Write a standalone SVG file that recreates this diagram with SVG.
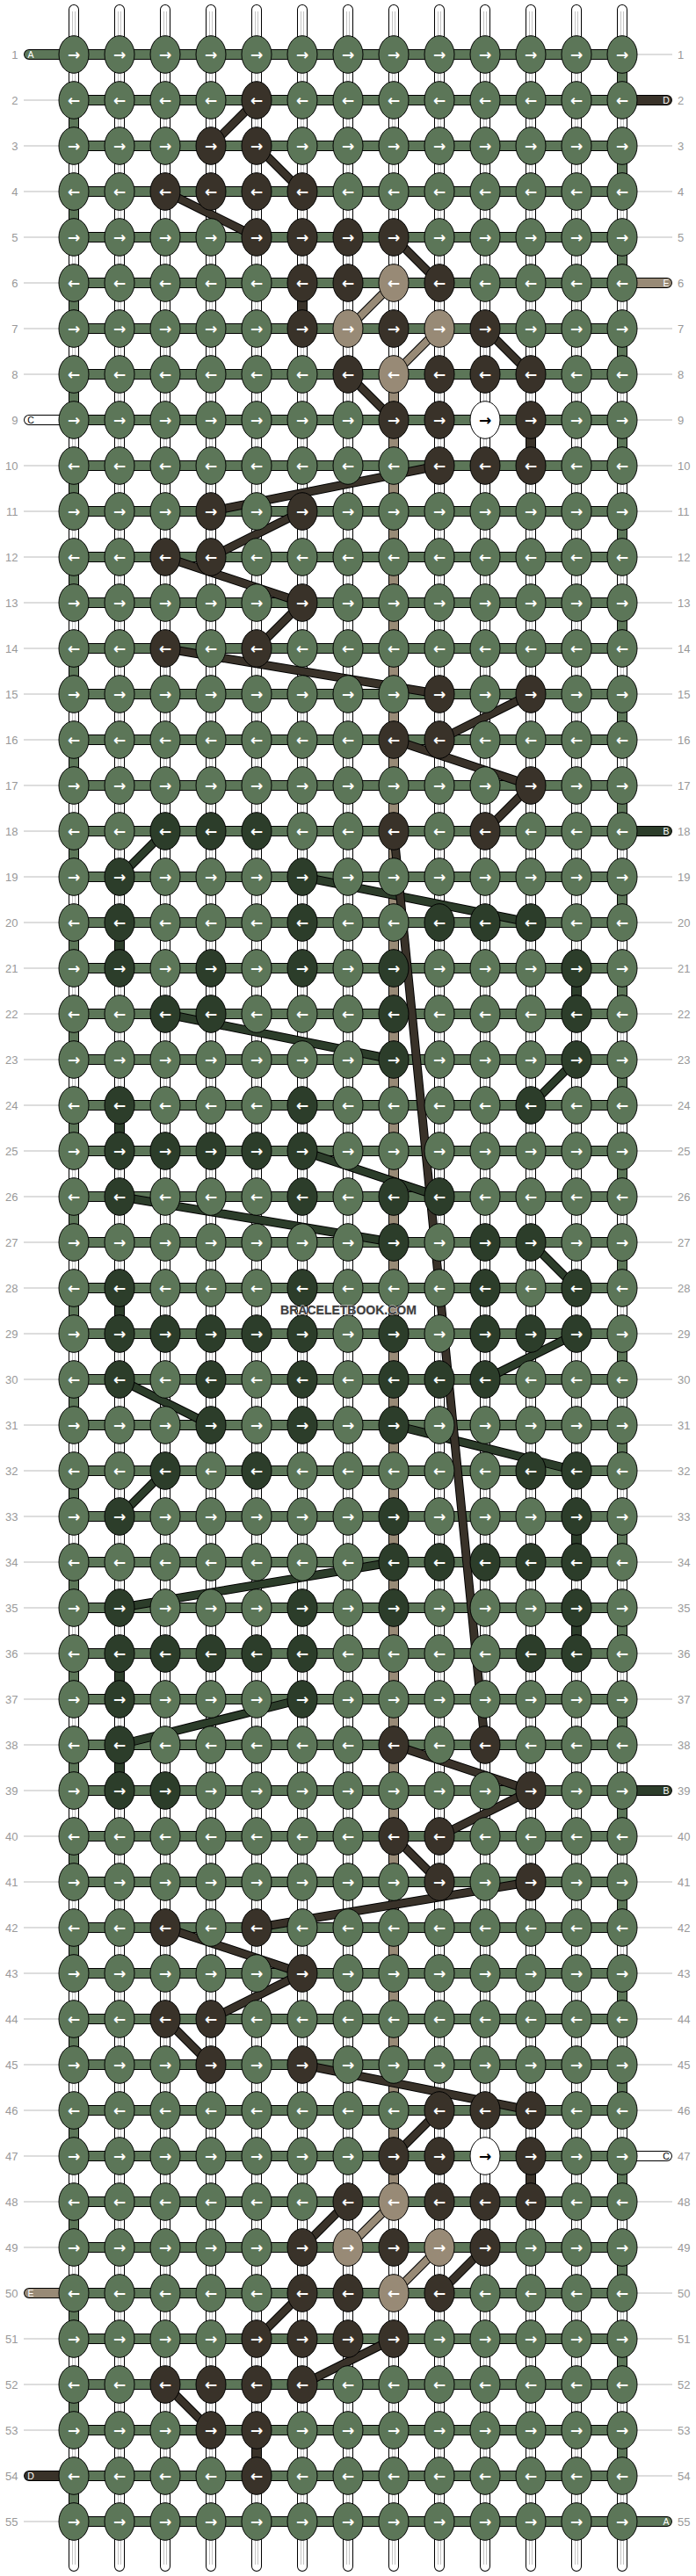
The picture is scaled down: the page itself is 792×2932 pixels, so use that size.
<svg xmlns="http://www.w3.org/2000/svg" width="792" height="2932" viewBox="0 0 792 2932">
<defs>
<style>
.t{font-family:"Liberation Sans",Arial,sans-serif;font-size:13px;fill:#999}
.tl{text-anchor:end}
.a{font-family:"DejaVu Sans",sans-serif;font-weight:bold;font-size:17px;fill:#fff;text-anchor:middle}
.lt{font-family:"Liberation Sans",Arial,sans-serif;font-size:10.5px;fill:#fff;text-anchor:middle}
.g{fill:#5c7658}.b{fill:#393229}.k{fill:#2c3d2a}.n{fill:#988a76}.w{fill:#fff}
.gl{stroke:#bbb;stroke-width:1;fill:none}
</style>
<ellipse id="k" rx="17" ry="21.3" stroke="#000" stroke-width="1"/>
<path id="vs" d="M84 11V2921M136 11V2921M188 11V2921M240 11V2921M292 11V2921M344 11V2921M396 11V2921M448 11V2921M500 11V2921M552 11V2921M604 11V2921M656 11V2921M708 11V2921" fill="none"/>
<path id="vi" d="M84 13V2919M136 13V2919M188 13V2919M240 13V2919M292 13V2919M344 13V2919M396 13V2919M448 13V2919M500 13V2919M552 13V2919M604 13V2919M656 13V2919M708 13V2919" fill="none"/>
<path id="hb" fill="none" d="M84 62H708M84 114H708M84 166H708M84 218H708M84 270H708M84 322H708M84 374H708M84 426H708M84 478H708M84 530H708M84 582H708M84 634H708M84 686H708M84 738H708M84 790H708M84 842H708M84 894H708M84 946H708M84 998H708M84 1050H708M84 1102H708M84 1154H708M84 1206H708M84 1258H708M84 1310H708M84 1362H708M84 1414H708M84 1466H708M84 1518H708M84 1570H708M84 1622H708M84 1674H708M84 1726H708M84 1778H708M84 1830H708M84 1882H708M84 1934H708M84 1986H708M84 2038H708M84 2090H708M84 2142H708M84 2194H708M84 2246H708M84 2298H708M84 2350H708M84 2402H708M84 2454H708M84 2506H708M84 2558H708M84 2610H708M84 2662H708M84 2714H708M84 2766H708M84 2818H708M84 2870H708"/>
<path id="eg" fill="none" stroke-dasharray="52 52" d="M84 114V2870M708 62V2818"/>
<path id="vt" fill="none" d="M448 426V2506"/>
<path id="vk" fill="none" d="M136 1050V1102M136 1258V1310M136 1466V1518M136 1882V1934M136 1986V2038M656 1102V1154M656 1726V1778M656 1830V1882"/>
<path id="vb" fill="none" d="M344 322V374M604 478V530M604 2454V2506M292 2766V2818"/>
<path id="capg" fill="none" stroke-linecap="round" d="M33 62H84M708 2870H759"/>
<path id="capb" fill="none" stroke-linecap="round" d="M33 2818H84M708 114H759"/>
<path id="capn" fill="none" stroke-linecap="round" d="M33 2610H84M708 322H759"/>
<path id="capk" fill="none" stroke-linecap="round" d="M708 946H759M708 2038H759"/>
<path id="capw" fill="none" stroke-linecap="round" d="M33 478H84M708 2454H759"/>
<path id="lb" fill="none" d="M292 114L240 166M292 166L344 218M188 218L292 270M448 270L500 322M552 374L604 426M396 426L448 478M500 530L240 582M344 582L240 634M188 634L344 686M344 686L292 738M188 738L500 790M604 790L500 842M448 842L604 894M604 894L552 946M448 946L552 1986M448 1986L604 2038M604 2038L500 2090M448 2090L500 2142M604 2142L292 2194M188 2194L344 2246M344 2246L240 2298M188 2298L240 2350M344 2350L604 2402M500 2402L448 2454M396 2506L344 2558M552 2558L500 2610M344 2610L292 2662M448 2662L344 2714M188 2714L240 2766"/>
<path id="ln" fill="none" d="M448 322L396 374M500 374L448 426M448 2506L396 2558M500 2558L448 2610"/>
<path id="lk" fill="none" d="M188 946L136 998M344 998L604 1050M188 1154L448 1206M656 1206L604 1258M344 1310L500 1362M136 1362L448 1414M604 1414L656 1466M656 1518L552 1570M136 1570L240 1622M448 1622L656 1674M188 1674L136 1726M448 1778L136 1830M344 1934L136 1986"/>
</defs>
<rect width="792" height="2932" fill="#fff"/>
<g id="row-guides">
<path class="gl" d="M27 114h40M27 166h40M27 218h40M27 270h40M27 322h40M27 374h40M27 426h40M27 530h40M27 582h40M27 634h40M27 686h40M27 738h40M27 790h40M27 842h40M27 894h40M27 946h40M27 998h40M27 1050h40M27 1102h40M27 1154h40M27 1206h40M27 1258h40M27 1310h40M27 1362h40M27 1414h40M27 1466h40M27 1518h40M27 1570h40M27 1622h40M27 1674h40M27 1726h40M27 1778h40M27 1830h40M27 1882h40M27 1934h40M27 1986h40M27 2038h40M27 2090h40M27 2142h40M27 2194h40M27 2246h40M27 2298h40M27 2350h40M27 2402h40M27 2454h40M27 2506h40M27 2558h40M27 2662h40M27 2714h40M27 2766h40M27 2870h40"/>
<path class="gl" d="M725 62h40M725 166h40M725 218h40M725 270h40M725 374h40M725 426h40M725 478h40M725 530h40M725 582h40M725 634h40M725 686h40M725 738h40M725 790h40M725 842h40M725 894h40M725 998h40M725 1050h40M725 1102h40M725 1154h40M725 1206h40M725 1258h40M725 1310h40M725 1362h40M725 1414h40M725 1466h40M725 1518h40M725 1570h40M725 1622h40M725 1674h40M725 1726h40M725 1778h40M725 1830h40M725 1882h40M725 1934h40M725 1986h40M725 2090h40M725 2142h40M725 2194h40M725 2246h40M725 2298h40M725 2350h40M725 2402h40M725 2506h40M725 2558h40M725 2610h40M725 2662h40M725 2714h40M725 2766h40M725 2818h40"/>
</g>
<g id="row-numbers-left" class="t tl">
<text x="20.5" y="66.5">1</text><text x="20.5" y="118.5">2</text><text x="20.5" y="170.5">3</text><text x="20.5" y="222.5">4</text><text x="20.5" y="274.5">5</text><text x="20.5" y="326.5">6</text><text x="20.5" y="378.5">7</text><text x="20.5" y="430.5">8</text><text x="20.5" y="482.5">9</text><text x="20.5" y="534.5">10</text><text x="20.5" y="586.5">11</text><text x="20.5" y="638.5">12</text><text x="20.5" y="690.5">13</text><text x="20.5" y="742.5">14</text><text x="20.5" y="794.5">15</text><text x="20.5" y="846.5">16</text><text x="20.5" y="898.5">17</text><text x="20.5" y="950.5">18</text><text x="20.5" y="1002.5">19</text><text x="20.5" y="1054.5">20</text><text x="20.5" y="1106.5">21</text><text x="20.5" y="1158.5">22</text><text x="20.5" y="1210.5">23</text><text x="20.5" y="1262.5">24</text><text x="20.5" y="1314.5">25</text><text x="20.5" y="1366.5">26</text><text x="20.5" y="1418.5">27</text><text x="20.5" y="1470.5">28</text><text x="20.5" y="1522.5">29</text><text x="20.5" y="1574.5">30</text><text x="20.5" y="1626.5">31</text><text x="20.5" y="1678.5">32</text><text x="20.5" y="1730.5">33</text><text x="20.5" y="1782.5">34</text><text x="20.5" y="1834.5">35</text><text x="20.5" y="1886.5">36</text><text x="20.5" y="1938.5">37</text><text x="20.5" y="1990.5">38</text><text x="20.5" y="2042.5">39</text><text x="20.5" y="2094.5">40</text><text x="20.5" y="2146.5">41</text><text x="20.5" y="2198.5">42</text><text x="20.5" y="2250.5">43</text><text x="20.5" y="2302.5">44</text><text x="20.5" y="2354.5">45</text><text x="20.5" y="2406.5">46</text><text x="20.5" y="2458.5">47</text><text x="20.5" y="2510.5">48</text><text x="20.5" y="2562.5">49</text><text x="20.5" y="2614.5">50</text><text x="20.5" y="2666.5">51</text><text x="20.5" y="2718.5">52</text><text x="20.5" y="2770.5">53</text><text x="20.5" y="2822.5">54</text><text x="20.5" y="2874.5">55</text>
</g>
<g id="row-numbers-right" class="t">
<text x="771" y="66.5">1</text><text x="771" y="118.5">2</text><text x="771" y="170.5">3</text><text x="771" y="222.5">4</text><text x="771" y="274.5">5</text><text x="771" y="326.5">6</text><text x="771" y="378.5">7</text><text x="771" y="430.5">8</text><text x="771" y="482.5">9</text><text x="771" y="534.5">10</text><text x="771" y="586.5">11</text><text x="771" y="638.5">12</text><text x="771" y="690.5">13</text><text x="771" y="742.5">14</text><text x="771" y="794.5">15</text><text x="771" y="846.5">16</text><text x="771" y="898.5">17</text><text x="771" y="950.5">18</text><text x="771" y="1002.5">19</text><text x="771" y="1054.5">20</text><text x="771" y="1106.5">21</text><text x="771" y="1158.5">22</text><text x="771" y="1210.5">23</text><text x="771" y="1262.5">24</text><text x="771" y="1314.5">25</text><text x="771" y="1366.5">26</text><text x="771" y="1418.5">27</text><text x="771" y="1470.5">28</text><text x="771" y="1522.5">29</text><text x="771" y="1574.5">30</text><text x="771" y="1626.5">31</text><text x="771" y="1678.5">32</text><text x="771" y="1730.5">33</text><text x="771" y="1782.5">34</text><text x="771" y="1834.5">35</text><text x="771" y="1886.5">36</text><text x="771" y="1938.5">37</text><text x="771" y="1990.5">38</text><text x="771" y="2042.5">39</text><text x="771" y="2094.5">40</text><text x="771" y="2146.5">41</text><text x="771" y="2198.5">42</text><text x="771" y="2250.5">43</text><text x="771" y="2302.5">44</text><text x="771" y="2354.5">45</text><text x="771" y="2406.5">46</text><text x="771" y="2458.5">47</text><text x="771" y="2510.5">48</text><text x="771" y="2562.5">49</text><text x="771" y="2614.5">50</text><text x="771" y="2666.5">51</text><text x="771" y="2718.5">52</text><text x="771" y="2770.5">53</text><text x="771" y="2822.5">54</text><text x="771" y="2874.5">55</text>
</g>
<g id="strings">
<use href="#vs" stroke="#000" stroke-width="12" stroke-linecap="round"/>
<use href="#vs" stroke="#fff" stroke-width="10" stroke-linecap="round"/>
<use href="#vi" stroke="#c4c4c4" stroke-width="4"/>
<use href="#vi" stroke="#fff" stroke-width="2"/>
<use href="#eg" stroke="#000" stroke-width="12"/>
<use href="#eg" stroke="#5c7658" stroke-width="10"/>
<use href="#vt" stroke="#000" stroke-width="12"/>
<use href="#vt" stroke="#988a76" stroke-width="10"/>
<use href="#vk" stroke="#000" stroke-width="12"/>
<use href="#vk" stroke="#2c3d2a" stroke-width="10"/>
<use href="#vb" stroke="#000" stroke-width="12"/>
<use href="#vb" stroke="#393229" stroke-width="10"/>
<use href="#hb" stroke="#000" stroke-width="12"/>
<use href="#hb" stroke="#5c7658" stroke-width="10"/>
</g>
<g id="string-labels">
<use href="#capg" stroke="#000" stroke-width="12"/><use href="#capg" stroke="#5c7658" stroke-width="10"/>
<use href="#capb" stroke="#000" stroke-width="12"/><use href="#capb" stroke="#393229" stroke-width="10"/>
<use href="#capn" stroke="#000" stroke-width="12"/><use href="#capn" stroke="#988a76" stroke-width="10"/>
<use href="#capk" stroke="#000" stroke-width="12"/><use href="#capk" stroke="#2c3d2a" stroke-width="10"/>
<use href="#capw" stroke="#000" stroke-width="12"/><use href="#capw" stroke="#fff" stroke-width="10"/>
<text class="lt" x="35" y="66">A</text>
<text class="lt" x="35" y="482" style="fill:#000">C</text>
<text class="lt" x="35" y="2614">E</text>
<text class="lt" x="35" y="2822">D</text>
<text class="lt" x="758" y="118">D</text>
<text class="lt" x="758" y="326">E</text>
<text class="lt" x="758" y="950">B</text>
<text class="lt" x="758" y="2042">B</text>
<text class="lt" x="758" y="2458" style="fill:#000">C</text>
<text class="lt" x="758" y="2874">A</text>
</g>
<g id="connectors">
<use href="#lk" stroke="#000" stroke-width="10"/><use href="#lk" stroke="#2c3d2a" stroke-width="8"/>
<use href="#lb" stroke="#000" stroke-width="10"/><use href="#lb" stroke="#393229" stroke-width="8"/>
<use href="#ln" stroke="#000" stroke-width="10"/><use href="#ln" stroke="#988a76" stroke-width="8"/>
</g>
<g id="knots">
<g id="row-1" class="g" transform="translate(0,62)"><use href="#k" x="84"/><use href="#k" x="136"/><use href="#k" x="188"/><use href="#k" x="240"/><use href="#k" x="292"/><use href="#k" x="344"/><use href="#k" x="396"/><use href="#k" x="448"/><use href="#k" x="500"/><use href="#k" x="552"/><use href="#k" x="604"/><use href="#k" x="656"/><use href="#k" x="708"/><text class="a" x="84 136 188 240 292 344 396 448 500 552 604 656 708" y="6">→→→→→→→→→→→→→</text></g>
<g id="row-2" class="g" transform="translate(0,114)"><use href="#k" x="84"/><use href="#k" x="136"/><use href="#k" x="188"/><use href="#k" x="240"/><use href="#k" x="292" class="b"/><use href="#k" x="344"/><use href="#k" x="396"/><use href="#k" x="448"/><use href="#k" x="500"/><use href="#k" x="552"/><use href="#k" x="604"/><use href="#k" x="656"/><use href="#k" x="708"/><text class="a" x="84 136 188 240 292 344 396 448 500 552 604 656 708" y="6">←←←←←←←←←←←←←</text></g>
<g id="row-3" class="g" transform="translate(0,166)"><use href="#k" x="84"/><use href="#k" x="136"/><use href="#k" x="188"/><use href="#k" x="240" class="b"/><use href="#k" x="292" class="b"/><use href="#k" x="344"/><use href="#k" x="396"/><use href="#k" x="448"/><use href="#k" x="500"/><use href="#k" x="552"/><use href="#k" x="604"/><use href="#k" x="656"/><use href="#k" x="708"/><text class="a" x="84 136 188 240 292 344 396 448 500 552 604 656 708" y="6">→→→→→→→→→→→→→</text></g>
<g id="row-4" class="g" transform="translate(0,218)"><use href="#k" x="84"/><use href="#k" x="136"/><use href="#k" x="188" class="b"/><use href="#k" x="240" class="b"/><use href="#k" x="292" class="b"/><use href="#k" x="344" class="b"/><use href="#k" x="396"/><use href="#k" x="448"/><use href="#k" x="500"/><use href="#k" x="552"/><use href="#k" x="604"/><use href="#k" x="656"/><use href="#k" x="708"/><text class="a" x="84 136 188 240 292 344 396 448 500 552 604 656 708" y="6">←←←←←←←←←←←←←</text></g>
<g id="row-5" class="g" transform="translate(0,270)"><use href="#k" x="84"/><use href="#k" x="136"/><use href="#k" x="188"/><use href="#k" x="240"/><use href="#k" x="292" class="b"/><use href="#k" x="344" class="b"/><use href="#k" x="396" class="b"/><use href="#k" x="448" class="b"/><use href="#k" x="500"/><use href="#k" x="552"/><use href="#k" x="604"/><use href="#k" x="656"/><use href="#k" x="708"/><text class="a" x="84 136 188 240 292 344 396 448 500 552 604 656 708" y="6">→→→→→→→→→→→→→</text></g>
<g id="row-6" class="g" transform="translate(0,322)"><use href="#k" x="84"/><use href="#k" x="136"/><use href="#k" x="188"/><use href="#k" x="240"/><use href="#k" x="292"/><use href="#k" x="344" class="b"/><use href="#k" x="396" class="b"/><use href="#k" x="448" class="n"/><use href="#k" x="500" class="b"/><use href="#k" x="552"/><use href="#k" x="604"/><use href="#k" x="656"/><use href="#k" x="708"/><text class="a" x="84 136 188 240 292 344 396 448 500 552 604 656 708" y="6">←←←←←←←←←←←←←</text></g>
<g id="row-7" class="g" transform="translate(0,374)"><use href="#k" x="84"/><use href="#k" x="136"/><use href="#k" x="188"/><use href="#k" x="240"/><use href="#k" x="292"/><use href="#k" x="344" class="b"/><use href="#k" x="396" class="n"/><use href="#k" x="448" class="b"/><use href="#k" x="500" class="n"/><use href="#k" x="552" class="b"/><use href="#k" x="604"/><use href="#k" x="656"/><use href="#k" x="708"/><text class="a" x="84 136 188 240 292 344 396 448 500 552 604 656 708" y="6">→→→→→→→→→→→→→</text></g>
<g id="row-8" class="g" transform="translate(0,426)"><use href="#k" x="84"/><use href="#k" x="136"/><use href="#k" x="188"/><use href="#k" x="240"/><use href="#k" x="292"/><use href="#k" x="344"/><use href="#k" x="396" class="b"/><use href="#k" x="448" class="n"/><use href="#k" x="500" class="b"/><use href="#k" x="552" class="b"/><use href="#k" x="604" class="b"/><use href="#k" x="656"/><use href="#k" x="708"/><text class="a" x="84 136 188 240 292 344 396 448 500 552 604 656 708" y="6">←←←←←←←←←←←←←</text></g>
<g id="row-9" class="g" transform="translate(0,478)"><use href="#k" x="84"/><use href="#k" x="136"/><use href="#k" x="188"/><use href="#k" x="240"/><use href="#k" x="292"/><use href="#k" x="344"/><use href="#k" x="396"/><use href="#k" x="448" class="b"/><use href="#k" x="500" class="b"/><use href="#k" x="552" class="w"/><use href="#k" x="604" class="b"/><use href="#k" x="656"/><use href="#k" x="708"/><text class="a" x="84 136 188 240 292 344 396 448 500 552 604 656 708" y="6">→→→→→→→→→<tspan style="fill:#000">→</tspan>→→→</text></g>
<g id="row-10" class="g" transform="translate(0,530)"><use href="#k" x="84"/><use href="#k" x="136"/><use href="#k" x="188"/><use href="#k" x="240"/><use href="#k" x="292"/><use href="#k" x="344"/><use href="#k" x="396"/><use href="#k" x="448"/><use href="#k" x="500" class="b"/><use href="#k" x="552" class="b"/><use href="#k" x="604" class="b"/><use href="#k" x="656"/><use href="#k" x="708"/><text class="a" x="84 136 188 240 292 344 396 448 500 552 604 656 708" y="6">←←←←←←←←←←←←←</text></g>
<g id="row-11" class="g" transform="translate(0,582)"><use href="#k" x="84"/><use href="#k" x="136"/><use href="#k" x="188"/><use href="#k" x="240" class="b"/><use href="#k" x="292"/><use href="#k" x="344" class="b"/><use href="#k" x="396"/><use href="#k" x="448"/><use href="#k" x="500"/><use href="#k" x="552"/><use href="#k" x="604"/><use href="#k" x="656"/><use href="#k" x="708"/><text class="a" x="84 136 188 240 292 344 396 448 500 552 604 656 708" y="6">→→→→→→→→→→→→→</text></g>
<g id="row-12" class="g" transform="translate(0,634)"><use href="#k" x="84"/><use href="#k" x="136"/><use href="#k" x="188" class="b"/><use href="#k" x="240" class="b"/><use href="#k" x="292"/><use href="#k" x="344"/><use href="#k" x="396"/><use href="#k" x="448"/><use href="#k" x="500"/><use href="#k" x="552"/><use href="#k" x="604"/><use href="#k" x="656"/><use href="#k" x="708"/><text class="a" x="84 136 188 240 292 344 396 448 500 552 604 656 708" y="6">←←←←←←←←←←←←←</text></g>
<g id="row-13" class="g" transform="translate(0,686)"><use href="#k" x="84"/><use href="#k" x="136"/><use href="#k" x="188"/><use href="#k" x="240"/><use href="#k" x="292"/><use href="#k" x="344" class="b"/><use href="#k" x="396"/><use href="#k" x="448"/><use href="#k" x="500"/><use href="#k" x="552"/><use href="#k" x="604"/><use href="#k" x="656"/><use href="#k" x="708"/><text class="a" x="84 136 188 240 292 344 396 448 500 552 604 656 708" y="6">→→→→→→→→→→→→→</text></g>
<g id="row-14" class="g" transform="translate(0,738)"><use href="#k" x="84"/><use href="#k" x="136"/><use href="#k" x="188" class="b"/><use href="#k" x="240"/><use href="#k" x="292" class="b"/><use href="#k" x="344"/><use href="#k" x="396"/><use href="#k" x="448"/><use href="#k" x="500"/><use href="#k" x="552"/><use href="#k" x="604"/><use href="#k" x="656"/><use href="#k" x="708"/><text class="a" x="84 136 188 240 292 344 396 448 500 552 604 656 708" y="6">←←←←←←←←←←←←←</text></g>
<g id="row-15" class="g" transform="translate(0,790)"><use href="#k" x="84"/><use href="#k" x="136"/><use href="#k" x="188"/><use href="#k" x="240"/><use href="#k" x="292"/><use href="#k" x="344"/><use href="#k" x="396"/><use href="#k" x="448"/><use href="#k" x="500" class="b"/><use href="#k" x="552"/><use href="#k" x="604" class="b"/><use href="#k" x="656"/><use href="#k" x="708"/><text class="a" x="84 136 188 240 292 344 396 448 500 552 604 656 708" y="6">→→→→→→→→→→→→→</text></g>
<g id="row-16" class="g" transform="translate(0,842)"><use href="#k" x="84"/><use href="#k" x="136"/><use href="#k" x="188"/><use href="#k" x="240"/><use href="#k" x="292"/><use href="#k" x="344"/><use href="#k" x="396"/><use href="#k" x="448" class="b"/><use href="#k" x="500" class="b"/><use href="#k" x="552"/><use href="#k" x="604"/><use href="#k" x="656"/><use href="#k" x="708"/><text class="a" x="84 136 188 240 292 344 396 448 500 552 604 656 708" y="6">←←←←←←←←←←←←←</text></g>
<g id="row-17" class="g" transform="translate(0,894)"><use href="#k" x="84"/><use href="#k" x="136"/><use href="#k" x="188"/><use href="#k" x="240"/><use href="#k" x="292"/><use href="#k" x="344"/><use href="#k" x="396"/><use href="#k" x="448"/><use href="#k" x="500"/><use href="#k" x="552"/><use href="#k" x="604" class="b"/><use href="#k" x="656"/><use href="#k" x="708"/><text class="a" x="84 136 188 240 292 344 396 448 500 552 604 656 708" y="6">→→→→→→→→→→→→→</text></g>
<g id="row-18" class="g" transform="translate(0,946)"><use href="#k" x="84"/><use href="#k" x="136"/><use href="#k" x="188" class="k"/><use href="#k" x="240" class="k"/><use href="#k" x="292" class="k"/><use href="#k" x="344"/><use href="#k" x="396"/><use href="#k" x="448" class="b"/><use href="#k" x="500"/><use href="#k" x="552" class="b"/><use href="#k" x="604"/><use href="#k" x="656"/><use href="#k" x="708"/><text class="a" x="84 136 188 240 292 344 396 448 500 552 604 656 708" y="6">←←←←←←←←←←←←←</text></g>
<g id="row-19" class="g" transform="translate(0,998)"><use href="#k" x="84"/><use href="#k" x="136" class="k"/><use href="#k" x="188"/><use href="#k" x="240"/><use href="#k" x="292"/><use href="#k" x="344" class="k"/><use href="#k" x="396"/><use href="#k" x="448"/><use href="#k" x="500"/><use href="#k" x="552"/><use href="#k" x="604"/><use href="#k" x="656"/><use href="#k" x="708"/><text class="a" x="84 136 188 240 292 344 396 448 500 552 604 656 708" y="6">→→→→→→→→→→→→→</text></g>
<g id="row-20" class="g" transform="translate(0,1050)"><use href="#k" x="84"/><use href="#k" x="136" class="k"/><use href="#k" x="188"/><use href="#k" x="240"/><use href="#k" x="292"/><use href="#k" x="344" class="k"/><use href="#k" x="396"/><use href="#k" x="448"/><use href="#k" x="500" class="k"/><use href="#k" x="552" class="k"/><use href="#k" x="604" class="k"/><use href="#k" x="656"/><use href="#k" x="708"/><text class="a" x="84 136 188 240 292 344 396 448 500 552 604 656 708" y="6">←←←←←←←←←←←←←</text></g>
<g id="row-21" class="g" transform="translate(0,1102)"><use href="#k" x="84"/><use href="#k" x="136" class="k"/><use href="#k" x="188"/><use href="#k" x="240" class="k"/><use href="#k" x="292"/><use href="#k" x="344" class="k"/><use href="#k" x="396"/><use href="#k" x="448" class="k"/><use href="#k" x="500"/><use href="#k" x="552"/><use href="#k" x="604"/><use href="#k" x="656" class="k"/><use href="#k" x="708"/><text class="a" x="84 136 188 240 292 344 396 448 500 552 604 656 708" y="6">→→→→→→→→→→→→→</text></g>
<g id="row-22" class="g" transform="translate(0,1154)"><use href="#k" x="84"/><use href="#k" x="136"/><use href="#k" x="188" class="k"/><use href="#k" x="240" class="k"/><use href="#k" x="292"/><use href="#k" x="344"/><use href="#k" x="396"/><use href="#k" x="448" class="k"/><use href="#k" x="500"/><use href="#k" x="552"/><use href="#k" x="604"/><use href="#k" x="656" class="k"/><use href="#k" x="708"/><text class="a" x="84 136 188 240 292 344 396 448 500 552 604 656 708" y="6">←←←←←←←←←←←←←</text></g>
<g id="row-23" class="g" transform="translate(0,1206)"><use href="#k" x="84"/><use href="#k" x="136"/><use href="#k" x="188"/><use href="#k" x="240"/><use href="#k" x="292"/><use href="#k" x="344"/><use href="#k" x="396"/><use href="#k" x="448" class="k"/><use href="#k" x="500"/><use href="#k" x="552"/><use href="#k" x="604"/><use href="#k" x="656" class="k"/><use href="#k" x="708"/><text class="a" x="84 136 188 240 292 344 396 448 500 552 604 656 708" y="6">→→→→→→→→→→→→→</text></g>
<g id="row-24" class="g" transform="translate(0,1258)"><use href="#k" x="84"/><use href="#k" x="136" class="k"/><use href="#k" x="188"/><use href="#k" x="240"/><use href="#k" x="292"/><use href="#k" x="344" class="k"/><use href="#k" x="396"/><use href="#k" x="448"/><use href="#k" x="500"/><use href="#k" x="552"/><use href="#k" x="604" class="k"/><use href="#k" x="656"/><use href="#k" x="708"/><text class="a" x="84 136 188 240 292 344 396 448 500 552 604 656 708" y="6">←←←←←←←←←←←←←</text></g>
<g id="row-25" class="g" transform="translate(0,1310)"><use href="#k" x="84"/><use href="#k" x="136" class="k"/><use href="#k" x="188" class="k"/><use href="#k" x="240" class="k"/><use href="#k" x="292" class="k"/><use href="#k" x="344" class="k"/><use href="#k" x="396"/><use href="#k" x="448"/><use href="#k" x="500"/><use href="#k" x="552"/><use href="#k" x="604"/><use href="#k" x="656"/><use href="#k" x="708"/><text class="a" x="84 136 188 240 292 344 396 448 500 552 604 656 708" y="6">→→→→→→→→→→→→→</text></g>
<g id="row-26" class="g" transform="translate(0,1362)"><use href="#k" x="84"/><use href="#k" x="136" class="k"/><use href="#k" x="188"/><use href="#k" x="240"/><use href="#k" x="292"/><use href="#k" x="344" class="k"/><use href="#k" x="396"/><use href="#k" x="448" class="k"/><use href="#k" x="500" class="k"/><use href="#k" x="552"/><use href="#k" x="604"/><use href="#k" x="656"/><use href="#k" x="708"/><text class="a" x="84 136 188 240 292 344 396 448 500 552 604 656 708" y="6">←←←←←←←←←←←←←</text></g>
<g id="row-27" class="g" transform="translate(0,1414)"><use href="#k" x="84"/><use href="#k" x="136"/><use href="#k" x="188"/><use href="#k" x="240"/><use href="#k" x="292"/><use href="#k" x="344"/><use href="#k" x="396"/><use href="#k" x="448" class="k"/><use href="#k" x="500"/><use href="#k" x="552" class="k"/><use href="#k" x="604" class="k"/><use href="#k" x="656"/><use href="#k" x="708"/><text class="a" x="84 136 188 240 292 344 396 448 500 552 604 656 708" y="6">→→→→→→→→→→→→→</text></g>
<g id="row-28" class="g" transform="translate(0,1466)"><use href="#k" x="84"/><use href="#k" x="136" class="k"/><use href="#k" x="188"/><use href="#k" x="240"/><use href="#k" x="292"/><use href="#k" x="344" class="k"/><use href="#k" x="396"/><use href="#k" x="448"/><use href="#k" x="500"/><use href="#k" x="552" class="k"/><use href="#k" x="604"/><use href="#k" x="656" class="k"/><use href="#k" x="708"/><text class="a" x="84 136 188 240 292 344 396 448 500 552 604 656 708" y="6">←←←←←←←←←←←←←</text></g>
<g id="row-29" class="g" transform="translate(0,1518)"><use href="#k" x="84"/><use href="#k" x="136" class="k"/><use href="#k" x="188" class="k"/><use href="#k" x="240" class="k"/><use href="#k" x="292" class="k"/><use href="#k" x="344" class="k"/><use href="#k" x="396"/><use href="#k" x="448" class="k"/><use href="#k" x="500"/><use href="#k" x="552" class="k"/><use href="#k" x="604" class="k"/><use href="#k" x="656" class="k"/><use href="#k" x="708"/><text class="a" x="84 136 188 240 292 344 396 448 500 552 604 656 708" y="6">→→→→→→→→→→→→→</text></g>
<g id="row-30" class="g" transform="translate(0,1570)"><use href="#k" x="84"/><use href="#k" x="136" class="k"/><use href="#k" x="188"/><use href="#k" x="240" class="k"/><use href="#k" x="292"/><use href="#k" x="344" class="k"/><use href="#k" x="396"/><use href="#k" x="448" class="k"/><use href="#k" x="500" class="k"/><use href="#k" x="552" class="k"/><use href="#k" x="604"/><use href="#k" x="656"/><use href="#k" x="708"/><text class="a" x="84 136 188 240 292 344 396 448 500 552 604 656 708" y="6">←←←←←←←←←←←←←</text></g>
<g id="row-31" class="g" transform="translate(0,1622)"><use href="#k" x="84"/><use href="#k" x="136"/><use href="#k" x="188"/><use href="#k" x="240" class="k"/><use href="#k" x="292"/><use href="#k" x="344" class="k"/><use href="#k" x="396"/><use href="#k" x="448" class="k"/><use href="#k" x="500"/><use href="#k" x="552"/><use href="#k" x="604"/><use href="#k" x="656"/><use href="#k" x="708"/><text class="a" x="84 136 188 240 292 344 396 448 500 552 604 656 708" y="6">→→→→→→→→→→→→→</text></g>
<g id="row-32" class="g" transform="translate(0,1674)"><use href="#k" x="84"/><use href="#k" x="136"/><use href="#k" x="188" class="k"/><use href="#k" x="240"/><use href="#k" x="292" class="k"/><use href="#k" x="344"/><use href="#k" x="396"/><use href="#k" x="448"/><use href="#k" x="500"/><use href="#k" x="552"/><use href="#k" x="604" class="k"/><use href="#k" x="656" class="k"/><use href="#k" x="708"/><text class="a" x="84 136 188 240 292 344 396 448 500 552 604 656 708" y="6">←←←←←←←←←←←←←</text></g>
<g id="row-33" class="g" transform="translate(0,1726)"><use href="#k" x="84"/><use href="#k" x="136" class="k"/><use href="#k" x="188"/><use href="#k" x="240"/><use href="#k" x="292"/><use href="#k" x="344"/><use href="#k" x="396"/><use href="#k" x="448" class="k"/><use href="#k" x="500"/><use href="#k" x="552"/><use href="#k" x="604"/><use href="#k" x="656" class="k"/><use href="#k" x="708"/><text class="a" x="84 136 188 240 292 344 396 448 500 552 604 656 708" y="6">→→→→→→→→→→→→→</text></g>
<g id="row-34" class="g" transform="translate(0,1778)"><use href="#k" x="84"/><use href="#k" x="136"/><use href="#k" x="188"/><use href="#k" x="240"/><use href="#k" x="292"/><use href="#k" x="344"/><use href="#k" x="396"/><use href="#k" x="448" class="k"/><use href="#k" x="500" class="k"/><use href="#k" x="552" class="k"/><use href="#k" x="604" class="k"/><use href="#k" x="656" class="k"/><use href="#k" x="708"/><text class="a" x="84 136 188 240 292 344 396 448 500 552 604 656 708" y="6">←←←←←←←←←←←←←</text></g>
<g id="row-35" class="g" transform="translate(0,1830)"><use href="#k" x="84"/><use href="#k" x="136" class="k"/><use href="#k" x="188"/><use href="#k" x="240"/><use href="#k" x="292"/><use href="#k" x="344" class="k"/><use href="#k" x="396"/><use href="#k" x="448" class="k"/><use href="#k" x="500"/><use href="#k" x="552"/><use href="#k" x="604"/><use href="#k" x="656" class="k"/><use href="#k" x="708"/><text class="a" x="84 136 188 240 292 344 396 448 500 552 604 656 708" y="6">→→→→→→→→→→→→→</text></g>
<g id="row-36" class="g" transform="translate(0,1882)"><use href="#k" x="84"/><use href="#k" x="136" class="k"/><use href="#k" x="188" class="k"/><use href="#k" x="240" class="k"/><use href="#k" x="292" class="k"/><use href="#k" x="344" class="k"/><use href="#k" x="396"/><use href="#k" x="448"/><use href="#k" x="500"/><use href="#k" x="552"/><use href="#k" x="604" class="k"/><use href="#k" x="656" class="k"/><use href="#k" x="708"/><text class="a" x="84 136 188 240 292 344 396 448 500 552 604 656 708" y="6">←←←←←←←←←←←←←</text></g>
<g id="row-37" class="g" transform="translate(0,1934)"><use href="#k" x="84"/><use href="#k" x="136" class="k"/><use href="#k" x="188"/><use href="#k" x="240"/><use href="#k" x="292"/><use href="#k" x="344" class="k"/><use href="#k" x="396"/><use href="#k" x="448"/><use href="#k" x="500"/><use href="#k" x="552"/><use href="#k" x="604"/><use href="#k" x="656"/><use href="#k" x="708"/><text class="a" x="84 136 188 240 292 344 396 448 500 552 604 656 708" y="6">→→→→→→→→→→→→→</text></g>
<g id="row-38" class="g" transform="translate(0,1986)"><use href="#k" x="84"/><use href="#k" x="136" class="k"/><use href="#k" x="188"/><use href="#k" x="240"/><use href="#k" x="292"/><use href="#k" x="344"/><use href="#k" x="396"/><use href="#k" x="448" class="b"/><use href="#k" x="500"/><use href="#k" x="552" class="b"/><use href="#k" x="604"/><use href="#k" x="656"/><use href="#k" x="708"/><text class="a" x="84 136 188 240 292 344 396 448 500 552 604 656 708" y="6">←←←←←←←←←←←←←</text></g>
<g id="row-39" class="g" transform="translate(0,2038)"><use href="#k" x="84"/><use href="#k" x="136" class="k"/><use href="#k" x="188" class="k"/><use href="#k" x="240"/><use href="#k" x="292"/><use href="#k" x="344"/><use href="#k" x="396"/><use href="#k" x="448"/><use href="#k" x="500"/><use href="#k" x="552"/><use href="#k" x="604" class="b"/><use href="#k" x="656"/><use href="#k" x="708"/><text class="a" x="84 136 188 240 292 344 396 448 500 552 604 656 708" y="6">→→→→→→→→→→→→→</text></g>
<g id="row-40" class="g" transform="translate(0,2090)"><use href="#k" x="84"/><use href="#k" x="136"/><use href="#k" x="188"/><use href="#k" x="240"/><use href="#k" x="292"/><use href="#k" x="344"/><use href="#k" x="396"/><use href="#k" x="448" class="b"/><use href="#k" x="500" class="b"/><use href="#k" x="552"/><use href="#k" x="604"/><use href="#k" x="656"/><use href="#k" x="708"/><text class="a" x="84 136 188 240 292 344 396 448 500 552 604 656 708" y="6">←←←←←←←←←←←←←</text></g>
<g id="row-41" class="g" transform="translate(0,2142)"><use href="#k" x="84"/><use href="#k" x="136"/><use href="#k" x="188"/><use href="#k" x="240"/><use href="#k" x="292"/><use href="#k" x="344"/><use href="#k" x="396"/><use href="#k" x="448"/><use href="#k" x="500" class="b"/><use href="#k" x="552"/><use href="#k" x="604" class="b"/><use href="#k" x="656"/><use href="#k" x="708"/><text class="a" x="84 136 188 240 292 344 396 448 500 552 604 656 708" y="6">→→→→→→→→→→→→→</text></g>
<g id="row-42" class="g" transform="translate(0,2194)"><use href="#k" x="84"/><use href="#k" x="136"/><use href="#k" x="188" class="b"/><use href="#k" x="240"/><use href="#k" x="292" class="b"/><use href="#k" x="344"/><use href="#k" x="396"/><use href="#k" x="448"/><use href="#k" x="500"/><use href="#k" x="552"/><use href="#k" x="604"/><use href="#k" x="656"/><use href="#k" x="708"/><text class="a" x="84 136 188 240 292 344 396 448 500 552 604 656 708" y="6">←←←←←←←←←←←←←</text></g>
<g id="row-43" class="g" transform="translate(0,2246)"><use href="#k" x="84"/><use href="#k" x="136"/><use href="#k" x="188"/><use href="#k" x="240"/><use href="#k" x="292"/><use href="#k" x="344" class="b"/><use href="#k" x="396"/><use href="#k" x="448"/><use href="#k" x="500"/><use href="#k" x="552"/><use href="#k" x="604"/><use href="#k" x="656"/><use href="#k" x="708"/><text class="a" x="84 136 188 240 292 344 396 448 500 552 604 656 708" y="6">→→→→→→→→→→→→→</text></g>
<g id="row-44" class="g" transform="translate(0,2298)"><use href="#k" x="84"/><use href="#k" x="136"/><use href="#k" x="188" class="b"/><use href="#k" x="240" class="b"/><use href="#k" x="292"/><use href="#k" x="344"/><use href="#k" x="396"/><use href="#k" x="448"/><use href="#k" x="500"/><use href="#k" x="552"/><use href="#k" x="604"/><use href="#k" x="656"/><use href="#k" x="708"/><text class="a" x="84 136 188 240 292 344 396 448 500 552 604 656 708" y="6">←←←←←←←←←←←←←</text></g>
<g id="row-45" class="g" transform="translate(0,2350)"><use href="#k" x="84"/><use href="#k" x="136"/><use href="#k" x="188"/><use href="#k" x="240" class="b"/><use href="#k" x="292"/><use href="#k" x="344" class="b"/><use href="#k" x="396"/><use href="#k" x="448"/><use href="#k" x="500"/><use href="#k" x="552"/><use href="#k" x="604"/><use href="#k" x="656"/><use href="#k" x="708"/><text class="a" x="84 136 188 240 292 344 396 448 500 552 604 656 708" y="6">→→→→→→→→→→→→→</text></g>
<g id="row-46" class="g" transform="translate(0,2402)"><use href="#k" x="84"/><use href="#k" x="136"/><use href="#k" x="188"/><use href="#k" x="240"/><use href="#k" x="292"/><use href="#k" x="344"/><use href="#k" x="396"/><use href="#k" x="448"/><use href="#k" x="500" class="b"/><use href="#k" x="552" class="b"/><use href="#k" x="604" class="b"/><use href="#k" x="656"/><use href="#k" x="708"/><text class="a" x="84 136 188 240 292 344 396 448 500 552 604 656 708" y="6">←←←←←←←←←←←←←</text></g>
<g id="row-47" class="g" transform="translate(0,2454)"><use href="#k" x="84"/><use href="#k" x="136"/><use href="#k" x="188"/><use href="#k" x="240"/><use href="#k" x="292"/><use href="#k" x="344"/><use href="#k" x="396"/><use href="#k" x="448" class="b"/><use href="#k" x="500" class="b"/><use href="#k" x="552" class="w"/><use href="#k" x="604" class="b"/><use href="#k" x="656"/><use href="#k" x="708"/><text class="a" x="84 136 188 240 292 344 396 448 500 552 604 656 708" y="6">→→→→→→→→→<tspan style="fill:#000">→</tspan>→→→</text></g>
<g id="row-48" class="g" transform="translate(0,2506)"><use href="#k" x="84"/><use href="#k" x="136"/><use href="#k" x="188"/><use href="#k" x="240"/><use href="#k" x="292"/><use href="#k" x="344"/><use href="#k" x="396" class="b"/><use href="#k" x="448" class="n"/><use href="#k" x="500" class="b"/><use href="#k" x="552" class="b"/><use href="#k" x="604" class="b"/><use href="#k" x="656"/><use href="#k" x="708"/><text class="a" x="84 136 188 240 292 344 396 448 500 552 604 656 708" y="6">←←←←←←←←←←←←←</text></g>
<g id="row-49" class="g" transform="translate(0,2558)"><use href="#k" x="84"/><use href="#k" x="136"/><use href="#k" x="188"/><use href="#k" x="240"/><use href="#k" x="292"/><use href="#k" x="344" class="b"/><use href="#k" x="396" class="n"/><use href="#k" x="448" class="b"/><use href="#k" x="500" class="n"/><use href="#k" x="552" class="b"/><use href="#k" x="604"/><use href="#k" x="656"/><use href="#k" x="708"/><text class="a" x="84 136 188 240 292 344 396 448 500 552 604 656 708" y="6">→→→→→→→→→→→→→</text></g>
<g id="row-50" class="g" transform="translate(0,2610)"><use href="#k" x="84"/><use href="#k" x="136"/><use href="#k" x="188"/><use href="#k" x="240"/><use href="#k" x="292"/><use href="#k" x="344" class="b"/><use href="#k" x="396" class="b"/><use href="#k" x="448" class="n"/><use href="#k" x="500" class="b"/><use href="#k" x="552"/><use href="#k" x="604"/><use href="#k" x="656"/><use href="#k" x="708"/><text class="a" x="84 136 188 240 292 344 396 448 500 552 604 656 708" y="6">←←←←←←←←←←←←←</text></g>
<g id="row-51" class="g" transform="translate(0,2662)"><use href="#k" x="84"/><use href="#k" x="136"/><use href="#k" x="188"/><use href="#k" x="240"/><use href="#k" x="292" class="b"/><use href="#k" x="344" class="b"/><use href="#k" x="396" class="b"/><use href="#k" x="448" class="b"/><use href="#k" x="500"/><use href="#k" x="552"/><use href="#k" x="604"/><use href="#k" x="656"/><use href="#k" x="708"/><text class="a" x="84 136 188 240 292 344 396 448 500 552 604 656 708" y="6">→→→→→→→→→→→→→</text></g>
<g id="row-52" class="g" transform="translate(0,2714)"><use href="#k" x="84"/><use href="#k" x="136"/><use href="#k" x="188" class="b"/><use href="#k" x="240" class="b"/><use href="#k" x="292" class="b"/><use href="#k" x="344" class="b"/><use href="#k" x="396"/><use href="#k" x="448"/><use href="#k" x="500"/><use href="#k" x="552"/><use href="#k" x="604"/><use href="#k" x="656"/><use href="#k" x="708"/><text class="a" x="84 136 188 240 292 344 396 448 500 552 604 656 708" y="6">←←←←←←←←←←←←←</text></g>
<g id="row-53" class="g" transform="translate(0,2766)"><use href="#k" x="84"/><use href="#k" x="136"/><use href="#k" x="188"/><use href="#k" x="240" class="b"/><use href="#k" x="292" class="b"/><use href="#k" x="344"/><use href="#k" x="396"/><use href="#k" x="448"/><use href="#k" x="500"/><use href="#k" x="552"/><use href="#k" x="604"/><use href="#k" x="656"/><use href="#k" x="708"/><text class="a" x="84 136 188 240 292 344 396 448 500 552 604 656 708" y="6">→→→→→→→→→→→→→</text></g>
<g id="row-54" class="g" transform="translate(0,2818)"><use href="#k" x="84"/><use href="#k" x="136"/><use href="#k" x="188"/><use href="#k" x="240"/><use href="#k" x="292" class="b"/><use href="#k" x="344"/><use href="#k" x="396"/><use href="#k" x="448"/><use href="#k" x="500"/><use href="#k" x="552"/><use href="#k" x="604"/><use href="#k" x="656"/><use href="#k" x="708"/><text class="a" x="84 136 188 240 292 344 396 448 500 552 604 656 708" y="6">←←←←←←←←←←←←←</text></g>
<g id="row-55" class="g" transform="translate(0,2870)"><use href="#k" x="84"/><use href="#k" x="136"/><use href="#k" x="188"/><use href="#k" x="240"/><use href="#k" x="292"/><use href="#k" x="344"/><use href="#k" x="396"/><use href="#k" x="448"/><use href="#k" x="500"/><use href="#k" x="552"/><use href="#k" x="604"/><use href="#k" x="656"/><use href="#k" x="708"/><text class="a" x="84 136 188 240 292 344 396 448 500 552 604 656 708" y="6">→→→→→→→→→→→→→</text></g>
</g>
<text id="watermark" x="396.5" y="1496" text-anchor="middle" font-family="Liberation Sans, Arial, sans-serif" font-weight="bold" font-size="14" fill="#3c3c3c" stroke="#d8d8d8" stroke-width="1" paint-order="stroke">BRACELETBOOK.COM</text>
</svg>
